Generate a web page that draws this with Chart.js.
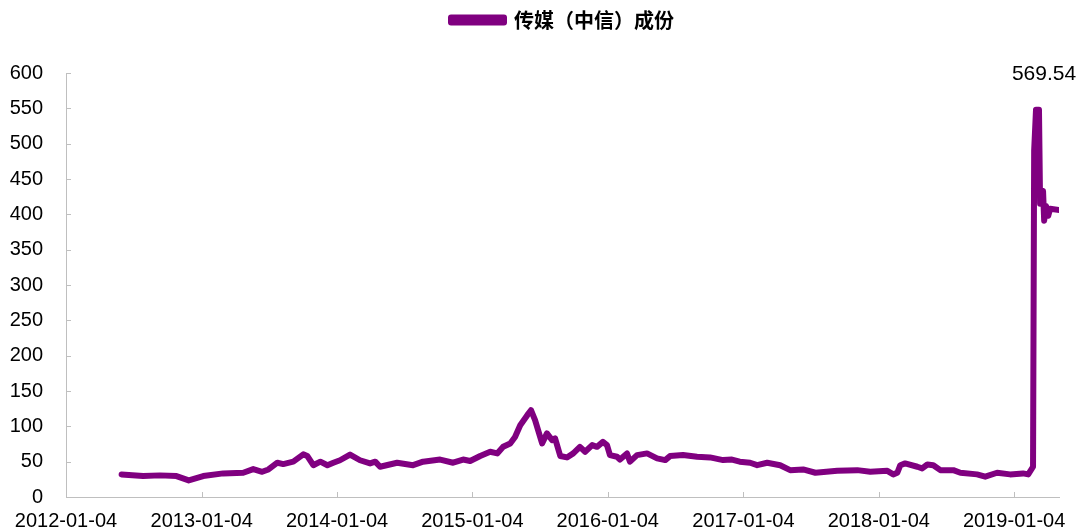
<!DOCTYPE html>
<html>
<head>
<meta charset="utf-8">
<script src="https://cdn.jsdelivr.net/npm/chart.js@4.4.0/dist/chart.umd.min.js"></script>
<style>
  html, body { margin: 0; padding: 0; background: #ffffff; }
  #wrap { width: 1079px; height: 532px; }
</style>
</head>
<body>
<div id="wrap"><canvas id="c" width="1079" height="532"></canvas></div>
<script>
// ---- Data ----
const seriesName = "传媒（中信）成份";
const dates = [
  "2012-06-02","2012-07-30","2012-09-13","2012-10-28","2012-11-30",
  "2013-01-08","2013-03-03","2013-04-26","2013-05-23","2013-06-16","2013-07-03","2013-07-27","2013-08-12","2013-09-08","2013-10-05","2013-10-16","2013-11-01","2013-11-20","2013-12-09","2013-12-25",
  "2014-01-12","2014-02-08","2014-03-07","2014-04-03","2014-04-17","2014-04-30","2014-06-15","2014-07-28","2014-08-24","2014-10-09","2014-11-13","2014-12-10","2014-12-29",
  "2015-01-25","2015-02-21","2015-03-12","2015-03-28","2015-04-16","2015-04-29","2015-05-13","2015-06-01","2015-06-11","2015-06-22","2015-07-11","2015-07-24","2015-08-07","2015-08-15","2015-08-29","2015-09-16","2015-10-03","2015-10-21","2015-11-04","2015-11-23","2015-12-06","2015-12-22",
  "2016-01-02","2016-01-10","2016-01-29","2016-02-06","2016-02-25","2016-03-04","2016-03-23","2016-04-19","2016-05-16","2016-06-07","2016-06-20","2016-07-25","2016-09-01","2016-10-06","2016-11-10","2016-12-04","2016-12-25",
  "2017-01-22","2017-02-10","2017-03-09","2017-04-13","2017-05-10","2017-06-14","2017-07-17","2017-09-14","2017-11-07","2017-12-12",
  "2018-01-27","2018-02-12","2018-02-23","2018-03-03","2018-03-16","2018-04-18","2018-05-01","2018-05-15","2018-05-31","2018-06-19","2018-07-24","2018-08-12","2018-09-26","2018-10-18","2018-11-19","2018-12-24",
  "2019-01-28","2019-02-11","2019-02-24","2019-02-27","2019-03-04","2019-03-12","2019-03-15","2019-03-23","2019-03-26","2019-03-31","2019-04-06","2019-04-11","2019-05-08"
];
const values = [
  32, 29.6, 30.6, 29.6, 23.5,
  29.6, 33.4, 34.3, 39.5, 35.7, 39, 48.5, 46.6, 50, 60.3, 58, 45, 50, 45, 48.5,
  52, 60, 52, 47.5, 50, 42.8, 48.5, 45, 50, 53, 48.5, 53, 51,
  58, 64, 61.7, 71, 75.8, 85, 101.6, 115.8, 122.8, 108.7, 75.8, 90, 80.5, 83, 58, 56, 61.7, 71, 64, 73.4, 71, 78,
  73.4, 59.3, 57, 53, 61.7, 50, 59.3, 61.7, 54.6, 52.2, 57.9, 59.3, 57, 56, 52.2, 53, 50,
  48.5, 45, 48.5, 45, 38, 39, 34.3, 37, 38, 35.7,
  37, 32, 34.3, 45, 47.5, 42.8, 40.5, 46, 45, 38, 38, 34.3, 32, 28.7, 34.3, 32,
  33.4, 32, 42.8, 490, 548, 548, 415, 433, 391, 412, 398, 408, 406
];
const xTickLabels = ["2012-01-04","2013-01-04","2014-01-04","2015-01-04","2016-01-04","2017-01-04","2018-01-04","2019-01-04"];
const yTicks = [0, 50, 100, 150, 200, 250, 300, 350, 400, 450, 500, 550, 600];
const peakLabel = "569.54";

// ---- helpers ----
const origin = Date.UTC(2012, 0, 4);
function toDays(s) {
  const [y, m, d] = s.split("-").map(Number);
  return (Date.UTC(y, m - 1, d) - origin) / 864e5;
}
const xTickValues = xTickLabels.map(toDays);
const points = dates.map((d, i) => ({ x: toDays(d), y: values[i] }));
const peakIndex = values.indexOf(Math.max(...values));

const color = "#800080";
const axisColor = "#bfbfbf";

const legendSpace = {
  id: "legendSpace",
  afterInit(chart) {
    const lg = chart.legend;
    if (!lg) return;
    const orig = lg.fit;
    lg.fit = function () { orig.call(this); this.height += 33; this.minSize && (this.minSize.height = this.height); };
  }
};

const innerTicks = {
  id: "innerTicks",
  afterDraw(chart) {
    const ctx = chart.ctx;
    const xs = chart.scales.x, ys = chart.scales.y;
    ctx.save();
    ctx.strokeStyle = axisColor;
    ctx.lineWidth = 1;
    ctx.beginPath();
    xs.ticks.forEach(t => {
      const px = Math.round(xs.getPixelForValue(t.value)) + 0.5;
      ctx.moveTo(px, ys.bottom);
      ctx.lineTo(px, ys.bottom - 5);
    });
    ys.ticks.forEach(t => {
      const py = Math.round(ys.getPixelForValue(t.value)) + 0.5;
      ctx.moveTo(xs.left, py);
      ctx.lineTo(xs.left + 5, py);
    });
    ctx.stroke();
    // peak data label
    const meta = chart.getDatasetMeta(0);
    const pt = meta.data[peakIndex];
    ctx.fillStyle = "#000";
    ctx.font = "21px 'Liberation Sans', Arial, sans-serif";
    ctx.textAlign = "center";
    ctx.textBaseline = "middle";
    ctx.fillText(peakLabel, pt.x + 8, 74);
    ctx.restore();
  }
};

new Chart(document.getElementById("c"), {
  type: "line",
  data: {
    datasets: [{
      label: seriesName,
      data: points,
      borderColor: color,
      backgroundColor: color,
      borderWidth: 6,
      pointRadius: 0,
      tension: 0,
      fill: false,
      borderJoinStyle: "round",
      borderCapStyle: "round"
    }]
  },
  options: {
    responsive: false,
    devicePixelRatio: 1,
    animation: false,
    layout: { padding: { left: 0, right: 20, top: 0, bottom: -13 } },
    plugins: {
      legend: {
        display: true,
        position: "top",
        fullSize: false,
        labels: {
          boxWidth: 53,
          boxHeight: 5,
          color: "#000",
          font: { family: "'Noto Sans CJK SC', sans-serif", size: 20, weight: "bold" },
          padding: 10
        }
      },
      tooltip: { enabled: false }
    },
    scales: {
      x: {
        type: "linear",
        min: 0,
        max: 2678,
        afterBuildTicks(scale) { scale.ticks = xTickValues.map(v => ({ value: v })); },
        ticks: {
          autoSkip: false,
          maxRotation: 0,
          padding: 12,
          color: "#000",
          font: { family: "'Liberation Sans', Arial, sans-serif", size: 20 },
          callback(v) { const i = xTickValues.indexOf(v); return i >= 0 ? xTickLabels[i] : ""; }
        },
        grid: { display: true, drawOnChartArea: false, drawTicks: false, color: axisColor },
        border: { display: true, color: axisColor, width: 1 }
      },
      y: {
        min: 0,
        max: 600,
        afterBuildTicks(scale) { scale.ticks = yTicks.map(v => ({ value: v })); },
        afterFit(scale) { scale.width = 66; },
        ticks: {
          padding: 23,
          color: "#000",
          font: { family: "'Liberation Sans', Arial, sans-serif", size: 20 }
        },
        grid: { display: true, drawOnChartArea: false, drawTicks: false, color: axisColor },
        border: { display: true, color: axisColor, width: 1 }
      }
    }
  },
  plugins: [legendSpace, innerTicks]
});
</script>
</body>
</html>
